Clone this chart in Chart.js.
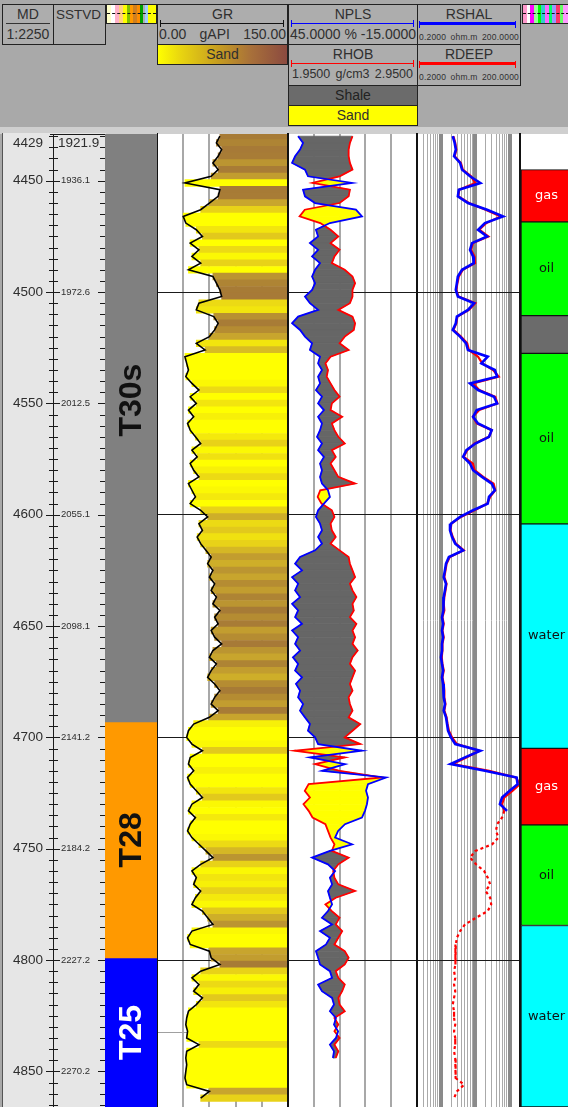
<!DOCTYPE html>
<html>
<head>
<meta charset="utf-8">
<title>Well log</title>
<script src="https://cdn.jsdelivr.net/npm/chart.js@4.4.1/dist/chart.umd.min.js"></script>
<style>
  body { margin:0; width:568px; height:1107px; overflow:hidden; position:relative; background:#a9a9a9; font-family:"Liberation Sans", Arial, sans-serif; }
  .hb { position:absolute; box-sizing:border-box; border:1px solid #222; background:#adadad; color:#303030; font-size:14px; line-height:15px; text-align:center; overflow:hidden; }
  .hb .t { position:absolute; left:0; right:0; top:2px; }
  .hb .row { position:absolute; left:1px; right:1px; top:22px; display:flex; justify-content:space-between; white-space:nowrap; }
  .sc { position:absolute; left:2px; right:3px; top:18px; border-top:1px solid currentColor; }
  .sc::before, .sc::after { content:""; position:absolute; top:-4px; width:1px; height:7px; background:currentColor; }
  .sc::before { left:0; } .sc::after { right:0; }
  .strip { position:absolute; top:4px; height:20px; box-sizing:border-box; border:1px solid #222; }
  .strip::after { content:""; position:absolute; left:0; right:0; top:8px; border-top:1px dashed #111; }
  canvas { position:absolute; top:134px; }
  .vl { position:absolute; top:133px; bottom:0; background:#111; z-index:5; }
</style>
</head>
<body>

<div class="hb" style="left:2px;top:4px;width:52px;height:41px">
  <div class="t">MD</div>
  <div style="position:absolute;left:3px;right:3px;top:18px;border-top:1px solid #333"></div>
  <div class="t" style="top:22px">1:2250</div>
</div>
<div class="hb" style="left:53px;top:4px;width:53px;height:41px;text-align:left;font-size:13.5px">
  <div style="position:absolute;left:2px;top:2px">SSTVD</div>
</div>
<div class="strip" style="left:106px;width:51px;background:linear-gradient(to right,#ffffc8 0 8%,#ffffff 8% 16%,#ffb0c8 16% 24%,#ffd080 24% 32%,#ffff00 32% 40%,#80c000 40% 46%,#ff9900 46% 54%,#d08020 54% 62%,#ff8c00 62% 68%,#00a000 68% 74%,#b0b0b0 74% 78%,#a0d0ff 78% 84%,#ffff00 84% 100%)"></div>

<div class="hb" style="left:157px;top:4px;width:131px;height:41px">
  <div class="t">GR</div>
  <div class="sc" style="color:#111"></div>
  <div class="row"><span>0.00</span><span>gAPI</span><span>150.00</span></div>
</div>
<div class="hb" style="left:157px;top:44px;width:131px;height:21px;background:linear-gradient(to right,#ffff00 0%,#e8d410 18%,#c8a020 45%,#a8703a 72%,#8b4a40 100%)">
  <div class="t">Sand</div>
</div>

<div class="hb" style="left:288px;top:4px;width:130px;height:41px">
  <div class="t">NPLS</div>
  <div class="sc" style="color:#0000ff"></div>
  <div class="t" style="top:22px;white-space:nowrap">45.0000 % -15.0000</div>
</div>
<div class="hb" style="left:288px;top:44px;width:130px;height:42px">
  <div class="t">RHOB</div>
  <div class="sc" style="color:#ff0000"></div>
  <div class="row" style="font-size:12.5px;left:3px;right:4px"><span>1.9500</span><span>g/cm3</span><span>2.9500</span></div>
</div>
<div class="hb" style="left:288px;top:85px;width:130px;height:21px;background:#6b6b6b;color:#222">
  <div class="t">Shale</div>
</div>
<div class="hb" style="left:288px;top:105px;width:130px;height:21px;background:#ffff00">
  <div class="t">Sand</div>
</div>

<div class="hb" style="left:417px;top:4px;width:104px;height:41px">
  <div class="t">RSHAL</div>
  <div class="sc" style="color:#0000ff;border-top-width:3px;top:17px;left:1px;right:4px"></div>
  <div class="row" style="font-size:8.5px;top:25px;letter-spacing:0.2px"><span>0.2000</span><span>ohm.m</span><span>200.0000</span></div>
</div>
<div class="hb" style="left:417px;top:44px;width:104px;height:42px">
  <div class="t">RDEEP</div>
  <div class="sc" style="color:#ff0000;border-top-width:3px;top:17px;left:1px;right:4px"></div>
  <div class="row" style="font-size:8.5px;top:25px;letter-spacing:0.2px"><span>0.2000</span><span>ohm.m</span><span>200.0000</span></div>
</div>
<div class="strip" style="left:522px;width:48px;background:linear-gradient(to right,#ff99cc 0 8%,#ffffff 8% 16%,#ff00ff 16% 24%,#99ff99 24% 32%,#00ff00 32% 40%,#33cccc 40% 48%,#ff66ff 48% 56%,#00ff66 56% 64%,#9999ff 64% 72%,#ff3366 72% 80%,#66ff66 80% 88%,#ff99ff 88% 100%)"></div>

<div style="position:absolute;left:0;top:127px;width:568px;height:7px;background:#cfcfcf"></div>
<div style="position:absolute;left:2px;top:133px;width:103px;bottom:0;background:#e6e6e6;border-left:1px solid #555"></div>

<canvas id="depth" width="105" height="973" style="left:0"></canvas>
<canvas id="zone" width="52" height="973" style="left:105px"></canvas>
<canvas id="gr" width="131" height="973" style="left:157px;background:#fff"></canvas>
<canvas id="np" width="129" height="973" style="left:288px;background:#fff"></canvas>
<canvas id="res" width="103" height="973" style="left:417px;background:#fff"></canvas>
<canvas id="fluid" width="51" height="973" style="left:521px;background:#fff"></canvas>

<div class="vl" style="left:157px;width:1px"></div>
<div class="vl" style="left:287px;width:2px"></div>
<div class="vl" style="left:416px;width:2px"></div>
<div class="vl" style="left:519px;width:2px"></div>

<script>
// visible depth window (m MD)
const VIEW_TOP = 4429, VIEW_BASE = 4866;
// curve samples: first depth and sampling step
const DEPTH_TOP = 4430, DEPTH_STEP = 3;
const TICK_STEP = 5;

const MD_LABELS = [4450, 4500, 4550, 4600, 4650, 4700, 4750, 4800, 4850];
const SSTVD_LABELS = ['1936.1', '1972.6', '2012.5', '2055.1', '2098.1', '2141.2', '2184.2', '2227.2', '2270.2'];
const MD_TOP_LABEL = '4429', SSTVD_TOP_LABEL = '1921.9';
const DEPTH_LINES = [4500, 4600, 4700, 4800];
const GR_MARKER = 4832.7;

const ZONE_NAMES = ['T30s', 'T28', 'T25'];
const ZONE_TOP = [4404, 4693, 4799];
const ZONE_BASE = [4693, 4799, 4866];

const FLUID_NAMES = ['gas', 'oil', '', 'oil', 'water', 'gas', 'oil', 'water'];
const FLUID_TOP = [4445.0, 4468.5, 4510.6, 4527.5, 4604.1, 4704.9, 4739.3, 4784.5];
const FLUID_BASE = [4468.5, 4510.6, 4527.5, 4604.1, 4704.9, 4739.3, 4784.5, 4866];

const GR = [
  72, 68, 74, 70, 64, 70, 62, 32, 72, 70,
  60, 50, 30, 33, 45, 52, 38, 48, 40, 50,
  36, 64, 68, 72, 74, 48, 45, 65, 70, 66,
  60, 45, 55, 32, 34, 36, 33, 40, 48, 38,
  45, 36, 42, 35, 38, 44, 50, 40, 46, 38,
  42, 48, 36, 40, 44, 38, 50, 58, 48, 52,
  46, 50, 56, 62, 58, 64, 60, 66, 62, 68,
  64, 72, 66, 70, 62, 66, 74, 64, 60, 68,
  62, 58, 66, 72, 66, 62, 70, 60, 42, 36,
  34, 40, 52, 38, 36, 42, 35, 38, 45, 52,
  40, 36, 44, 38, 35, 40, 48, 56, 64, 50,
  40, 45, 42, 50, 44, 40, 52, 58, 64, 40,
  35, 38, 60, 62, 72, 50, 40, 48, 42, 52,
  45, 36, 34, 33, 35, 34, 48, 34, 33, 34,
  33, 32, 34, 60, 50
];

const NPLS = [
  40.3, 38.0, 39.4, 41.7, 43.1, 37.1, 35.7, 15.2, 38.0, 37.1,
  32.4, 13.4, 10.6, 25.5, 32.0, 31.0, 34.8, 31.0, 33.8, 30.1,
  32.4, 33.8, 32.4, 33.8, 37.1, 34.8, 31.0, 40.3, 43.1, 39.4,
  37.1, 33.8, 34.8, 30.1, 31.0, 29.2, 31.0, 30.1, 32.0, 29.2,
  31.0, 28.3, 31.0, 29.2, 30.1, 31.5, 29.2, 31.0, 28.3, 30.1,
  29.2, 30.1, 29.2, 26.4, 25.5, 28.3, 31.0, 32.0, 30.1, 29.2,
  31.0, 29.2, 32.4, 39.4, 41.7, 38.5, 43.1, 40.3, 41.7, 39.4,
  43.1, 40.3, 41.7, 38.5, 43.1, 40.3, 41.7, 39.4, 42.7, 40.3,
  41.7, 38.5, 41.3, 39.4, 40.3, 38.0, 39.4, 37.1, 34.8, 35.7,
  32.4, 31.0, 10.6, 34.8, 18.5, 29.2, -0.6, 7.8, 8.7, 7.8,
  8.3, 9.2, 10.6, 18.5, 21.7, 23.1, 15.2, 25.5, 33.8, 26.4,
  23.1, 25.5, 24.5, 26.4, 25.5, 24.5, 26.4, 29.2, 24.5, 30.1,
  25.5, 27.3, 32.0, 31.0, 30.1, 25.5, 24.5, 31.0, 29.2, 24.5,
  23.6, 25.5, 22.7, 23.6, 21.7, 22.7, 25.5, 23.6, 24.1, null,
  null, null, null, null, null
];

const RHOB = [
  2.45, 2.43, 2.42, 2.42, 2.43, 2.45, 2.35, 2.14, 2.43, 2.42,
  2.35, 2.08, 2.04, 2.20, 2.28, 2.34, 2.28, 2.35, 2.31, 2.29,
  2.39, 2.45, 2.47, 2.45, 2.45, 2.43, 2.34, 2.45, 2.47, 2.46,
  2.39, 2.35, 2.42, 2.28, 2.24, 2.26, 2.25, 2.28, 2.31, 2.35,
  2.29, 2.28, 2.37, 2.29, 2.31, 2.34, 2.39, 2.29, 2.32, 2.28,
  2.31, 2.34, 2.47, 2.20, 2.18, 2.21, 2.29, 2.31, 2.28, 2.29,
  2.32, 2.28, 2.35, 2.42, 2.43, 2.45, 2.47, 2.43, 2.45, 2.48,
  2.45, 2.46, 2.43, 2.48, 2.45, 2.47, 2.45, 2.49, 2.45, 2.43,
  2.47, 2.45, 2.43, 2.45, 2.42, 2.43, 2.45, 2.42, 2.51, 2.45,
  2.39, 2.51, 2.00, 2.39, 2.16, 2.35, 2.68, 2.11, 2.08, 2.12,
  2.07, 2.11, 2.14, 2.24, 2.26, 2.28, 2.31, 2.29, 2.42, 2.34,
  2.30, 2.31, 2.34, 2.47, 2.32, 2.24, 2.29, 2.35, 2.32, 2.37,
  2.34, 2.31, 2.39, 2.42, 2.39, 2.32, 2.34, 2.39, 2.37, 2.34,
  2.35, 2.39, 2.31, 2.34, 2.31, 2.35, 2.31, 2.34, 2.32, null,
  null, null, null, null, null
];

const RSHAL = [
  2.2, 2.5, 2.7, 2.4, 3.6, 4.1, 7, 14, 3.3, 3.1,
  6.1, 22, 64, 19, 12, 22, 8, 7, 8.6, 9,
  4.1, 3.1, 2.9, 2.7, 3.1, 9.2, 6.1, 2.9, 2.7, 2.2,
  3.6, 5.4, 6.1, 23, 15, 37, 43, 7, 12, 35,
  43, 11, 8.6, 12, 30, 25, 10, 5.5, 4.4, 7,
  8.6, 15.6, 30, 37, 25, 23, 8.6, 3.6, 1.95, 1.83,
  2.1, 2.6, 4.4, 1.7, 1.4, 1.3, 1.2, 1.4, 1.3, 1.2,
  1.15, 1.2, 1.07, 1.15, 1.07, 1.15, 1.07, 1.07, 1.0, 1.07,
  1.15, 1.07, 1.15, 1.2, 1.2, 1.3, 1.2, 1.4, 1.5, 1.6,
  1.95, 2.6, 14, 5, 1.9, 19, 160, 170, 100, 60,
  52, 84, null, null, null, null, null, null, null, null,
  null, null, null, null, null, null, null, null, null, null,
  null, null, null, null, null, null, null, null, null, null,
  null, null, null, null, null, null, null, null, null, null,
  null, null, null, null, null
];

const RDEEP = [
  2.3, 2.6, 2.8, 2.5, 3.8, 4.3, 7.5, 10, 3.4, 3.2,
  6.5, 20, 55, 21, 13, 24, 8.5, 7.5, 9.5, 9.8,
  4.3, 3.3, 3.0, 2.8, 3.2, 10, 6.5, 3.0, 2.8, 2.3,
  3.8, 5.8, 6.5, 12, 16, 33, 48, 8.5, 13, 38,
  44, 13, 8.5, 11, 30, 25, 9.5, 5.8, 4.6, 8.5,
  9.5, 17, 34, 38, 27, 22, 9.5, 3.8, 2.0, 1.9,
  2.2, 2.7, 4.6, 1.8, 1.45, 1.35, 1.25, 1.45, 1.35, 1.25,
  1.2, 1.25, 1.1, 1.2, 1.1, 1.2, 1.1, 1.1, 1.05, 1.1,
  1.2, 1.1, 1.2, 1.25, 1.25, 1.35, 1.25, 1.45, 1.55, 1.7,
  2.1, 2.9, 13, 5.5, 2.2, 25, 150, 200, 120, 70,
  60, 70, 60, 43, 40, 47, 31, 10, 7, 10.5,
  18, 23, 27, 20, 27, 29, 23, 10.5, 5, 3.6,
  2.9, 2.7, 2.7, 2.6, 2.6, 2.4, 2.6, 2.4, 2.6, 2.4,
  2.2, 2.4, 2.4, 2.6, 2.4, 2.6, 2.6, 2.4, 2.6, 2.6,
  2.7, 2.7, 4.7, 2.9, 2.4
];
// RDEEP shown dotted below this depth
const RDEEP_DOTTED_FROM = 4733;

const GR_GRID = [30, 60, 90, 120];
const NPLS_GRID = [33, 21, 9, -3];
const RES_GRID = [0.3, 0.4, 0.5, 0.6, 0.7, 0.8, 0.9, 1, 2, 3, 4, 5, 6, 7, 8, 9,
                  10, 20, 30, 40, 50, 60, 70, 80, 90, 100];
const RES_MAJOR = [1, 10, 100];

const DEPTH = GR.map((_, i) => DEPTH_TOP + i * DEPTH_STEP);

// styles
const ZONE_COLORS = ['#808080', '#ff9900', '#0000ff'];
const ZONE_TEXT = ['#111', '#111', '#fff'];
const FLUID_FILL = { gas: '#ff0000', oil: '#00ff00', water: '#00ffff', '': '#6b6b6b' };
const FLUID_TEXT = { gas: '#fff', oil: '#111', water: '#111', '': '#111' };
const SHALE_FILL = '#666666', SAND_FILL = '#ffff00';
const SAND_STOPS = [[38, [255, 255, 0]], [50, [232, 210, 24]], [60, [200, 165, 45]], [70, [168, 124, 54]], [150, [139, 74, 64]]];

Chart.defaults.animation = false;
Chart.defaults.responsive = false;
Chart.defaults.devicePixelRatio = 1;
Chart.defaults.events = [];
Chart.defaults.font.family = '"Liberation Sans", Arial, sans-serif';
Chart.defaults.plugins.legend.display = false;
Chart.defaults.plugins.tooltip.enabled = false;

function sandColor(v) {
  if (v <= SAND_STOPS[0][0]) return 'rgb(' + SAND_STOPS[0][1].join(',') + ')';
  for (let k = 1; k < SAND_STOPS.length; k++) {
    const [v0, c0] = SAND_STOPS[k - 1], [v1, c1] = SAND_STOPS[k];
    if (v <= v1) {
      const t = (v - v0) / (v1 - v0);
      return 'rgb(' + c0.map((c, j) => Math.round(c + (c1[j] - c) * t)).join(',') + ')';
    }
  }
  return 'rgb(' + SAND_STOPS[SAND_STOPS.length - 1][1].join(',') + ')';
}

function depthAxis(withLines) {
  return {
    type: 'linear', min: VIEW_TOP, max: VIEW_BASE, reverse: true,
    display: !!withLines, z: 1, offset: false,
    afterBuildTicks: s => { s.ticks = withLines === 'gr'
      ? DEPTH_LINES.concat([GR_MARKER]).map(v => ({ value: v }))
      : DEPTH_LINES.map(v => ({ value: v })); },
    ticks: { display: false },
    grid: { offset: false, drawTicks: false, lineWidth: 1, color: c => c.tick && c.tick.value === GR_MARKER ? '#a0a0a0' : '#1a1a1a' },
    border: { display: false }
  };
}

function gridAxis(extra) {
  return Object.assign({
    display: true, offset: false,
    ticks: { display: false },
    grid: { offset: false, drawTicks: false, color: '#a8a8a8', lineWidth: 2 },
    border: { display: false }
  }, extra);
}

function curve(values) {
  return DEPTH.map((d, i) => ({ x: values[i], y: d })).filter(p => p.x != null);
}

// depth track: ticks and labels
const depthTrack = {
  id: 'depthTrack',
  afterDraw(chart) {
    const { ctx, scales: { y } } = chart;
    const H = chart.height;
    ctx.save();
    ctx.strokeStyle = '#1a1a1a';
    ctx.lineWidth = 1;
    ctx.beginPath();
    ctx.moveTo(53.5, 0); ctx.lineTo(53.5, H);
    ctx.moveTo(50, 0.5); ctx.lineTo(105, 0.5);
    for (let d = Math.ceil(VIEW_TOP / TICK_STEP) * TICK_STEP; d <= VIEW_BASE; d += TICK_STEP) {
      const py = Math.round(y.getPixelForValue(d)) + 0.5;
      const major = d % 50 === 0;
      ctx.moveTo(major ? 46 : 49, py); ctx.lineTo(major ? 60 : 58, py);
      ctx.moveTo(major ? 98 : 100, py); ctx.lineTo(105, py);
    }
    ctx.stroke();

    ctx.fillStyle = '#2e2e2e';
    ctx.textBaseline = 'middle';
    ctx.font = '13.5px "Liberation Sans"';
    ctx.textAlign = 'right';
    MD_LABELS.forEach(v => ctx.fillText(String(v), 43, y.getPixelForValue(v)));
    const topY = y.getPixelForValue(VIEW_TOP) + 9;
    ctx.fillText(MD_TOP_LABEL, 43, topY);
    ctx.textAlign = 'left';
    ctx.fillText(SSTVD_TOP_LABEL, 58, topY);
    ctx.font = '9.5px "Liberation Sans"';
    SSTVD_LABELS.forEach((s, i) => ctx.fillText(s, 61, y.getPixelForValue(MD_LABELS[i])));
    ctx.restore();
  }
};

// labels centred on floating bars (zones, fluids)
const barLabels = {
  id: 'barLabels',
  afterDatasetsDraw(chart, args, opts) {
    const { ctx } = chart;
    ctx.save();
    ctx.textAlign = 'center';
    ctx.textBaseline = 'middle';
    ctx.font = opts.font;
    chart.data.datasets.forEach((ds, i) => {
      const bar = chart.getDatasetMeta(i).data[0];
      const cy = (bar.y + bar.base) / 2;
      ctx.fillStyle = opts.colors[i];
      ctx.save();
      ctx.translate(bar.x + (opts.dx || 0), cy);
      if (opts.rotate) ctx.rotate(-Math.PI / 2);
      ctx.fillText(ds.label, 0, opts.rotate ? 1 : 0);
      ctx.restore();
    });
    ctx.restore();
  }
};

// NPLS / RHOB crossover shading
const crossFill = {
  id: 'crossFill',
  beforeDatasetsDraw(chart) {
    const { ctx, chartArea: a, scales } = chart;
    const xn = scales.xN, xr = scales.xR, y = scales.y;
    ctx.save();
    ctx.beginPath();
    ctx.rect(a.left, a.top, a.width, a.height);
    ctx.clip();
    ctx.lineWidth = 0.8;
    const quad = (n0, r0, y0, n1, r1, y1, sign) => {
      const c = sign >= 0 ? SHALE_FILL : SAND_FILL;
      ctx.fillStyle = c; ctx.strokeStyle = c;
      ctx.beginPath();
      ctx.moveTo(n0, y0); ctx.lineTo(n1, y1); ctx.lineTo(r1, y1); ctx.lineTo(r0, y0);
      ctx.closePath();
      ctx.fill(); ctx.stroke();
    };
    for (let i = 0; i < DEPTH.length - 1; i++) {
      if (NPLS[i] == null || NPLS[i + 1] == null) continue;
      const y0 = y.getPixelForValue(DEPTH[i]), y1 = y.getPixelForValue(DEPTH[i + 1]);
      const n0 = xn.getPixelForValue(NPLS[i]), n1 = xn.getPixelForValue(NPLS[i + 1]);
      const r0 = xr.getPixelForValue(RHOB[i]), r1 = xr.getPixelForValue(RHOB[i + 1]);
      const d0 = r0 - n0, d1 = r1 - n1;
      if (d0 * d1 < 0) {
        const t = d0 / (d0 - d1);
        const ym = y0 + (y1 - y0) * t, xm = n0 + (n1 - n0) * t;
        quad(n0, r0, y0, xm, xm, ym, d0);
        quad(xm, xm, ym, n1, r1, y1, d1);
      } else {
        quad(n0, r0, y0, n1, r1, y1, d0 + d1);
      }
    }
    ctx.restore();
  }
};

new Chart(document.getElementById('depth'), {
  type: 'scatter',
  data: { datasets: [] },
  options: {
    scales: {
      x: { display: false, min: 0, max: 1 },
      y: { type: 'linear', min: VIEW_TOP, max: VIEW_BASE, reverse: true, display: false }
    }
  },
  plugins: [depthTrack]
});

new Chart(document.getElementById('zone'), {
  type: 'bar',
  data: {
    labels: ['zone'],
    datasets: ZONE_NAMES.map((n, i) => ({
      label: n, data: [[ZONE_TOP[i], ZONE_BASE[i]]],
      backgroundColor: ZONE_COLORS[i], borderWidth: 0,
      barPercentage: 1, categoryPercentage: 1, grouped: false
    }))
  },
  options: {
    scales: {
      x: { display: false },
      y: { type: 'linear', min: VIEW_TOP, max: VIEW_BASE, reverse: true, display: false }
    },
    plugins: { barLabels: { font: 'bold 32px "Liberation Sans"', colors: ZONE_TEXT, rotate: true } }
  },
  plugins: [barLabels]
});

new Chart(document.getElementById('gr'), {
  type: 'bar',
  data: {
    datasets: [
      { type: 'line', label: 'GR', data: curve(GR), borderColor: '#000', borderWidth: 1.6, pointRadius: 0, order: 0 },
      { type: 'bar', label: 'Sand', data: DEPTH.map((d, i) => ({ x: [GR[i], 150], y: d })),
        backgroundColor: c => sandColor(GR[c.dataIndex]), borderWidth: 0,
        barPercentage: 1, categoryPercentage: 1, order: 1 }
    ]
  },
  options: {
    indexAxis: 'y',
    scales: {
      x: gridAxis({ type: 'linear', min: 0, max: 150, afterBuildTicks: s => { s.ticks = GR_GRID.map(v => ({ value: v })); } }),
      y: depthAxis('gr')
    }
  }
});

new Chart(document.getElementById('np'), {
  type: 'line',
  data: {
    datasets: [
      { label: 'NPLS', data: curve(NPLS), xAxisID: 'xN', borderColor: '#0000ff', borderWidth: 1.8, pointRadius: 0 },
      { label: 'RHOB', data: curve(RHOB), xAxisID: 'xR', borderColor: '#ff0000', borderWidth: 1.8, pointRadius: 0 }
    ]
  },
  options: {
    indexAxis: 'y',
    scales: {
      xN: gridAxis({ type: 'linear', axis: 'x', position: 'top', min: -15, max: 45, reverse: true,
        afterBuildTicks: s => { s.ticks = NPLS_GRID.map(v => ({ value: v })); } }),
      xR: { type: 'linear', axis: 'x', position: 'top', min: 1.95, max: 2.95, display: false },
      y: depthAxis(true)
    }
  },
  plugins: [crossFill]
});

new Chart(document.getElementById('res'), {
  type: 'line',
  data: {
    datasets: [
      { label: 'RSHAL', data: curve(RSHAL), borderColor: '#0000ff', borderWidth: 2.6, pointRadius: 0 },
      { label: 'RDEEP', data: curve(RDEEP), borderColor: '#ff0000', borderWidth: 2.2, pointRadius: 0,
        segment: { borderDash: c => c.p0.parsed.y >= RDEEP_DOTTED_FROM ? [3, 3] : undefined } }
    ]
  },
  options: {
    indexAxis: 'y',
    scales: {
      x: {
        type: 'logarithmic', min: 0.2, max: 200, display: true,
        afterBuildTicks: s => { s.ticks = RES_GRID.map(v => ({ value: v })); },
        ticks: { display: false },
        grid: {
          drawTicks: false,
          color: c => c.tick && RES_MAJOR.includes(c.tick.value) ? '#8a8a8a' : '#aaaaaa',
          lineWidth: c => c.tick && RES_MAJOR.includes(c.tick.value) ? 4 : 1
        },
        border: { display: false }
      },
      y: depthAxis(true)
    }
  }
});

new Chart(document.getElementById('fluid'), {
  type: 'bar',
  data: {
    labels: ['fluid'],
    datasets: FLUID_NAMES.map((n, i) => ({
      label: n, data: [[FLUID_TOP[i], FLUID_BASE[i]]],
      backgroundColor: FLUID_FILL[n], borderColor: '#111', borderWidth: 1, borderSkipped: false,
      barPercentage: 1, categoryPercentage: 1, grouped: false
    }))
  },
  options: {
    scales: {
      x: { display: false },
      y: { type: 'linear', min: VIEW_TOP, max: VIEW_BASE, reverse: true, display: false }
    },
    plugins: { barLabels: { font: '13px "DejaVu Sans"', colors: FLUID_NAMES.map(n => FLUID_TEXT[n]), dx: 0 } }
  },
  plugins: [barLabels]
});
</script>
</body>
</html>
